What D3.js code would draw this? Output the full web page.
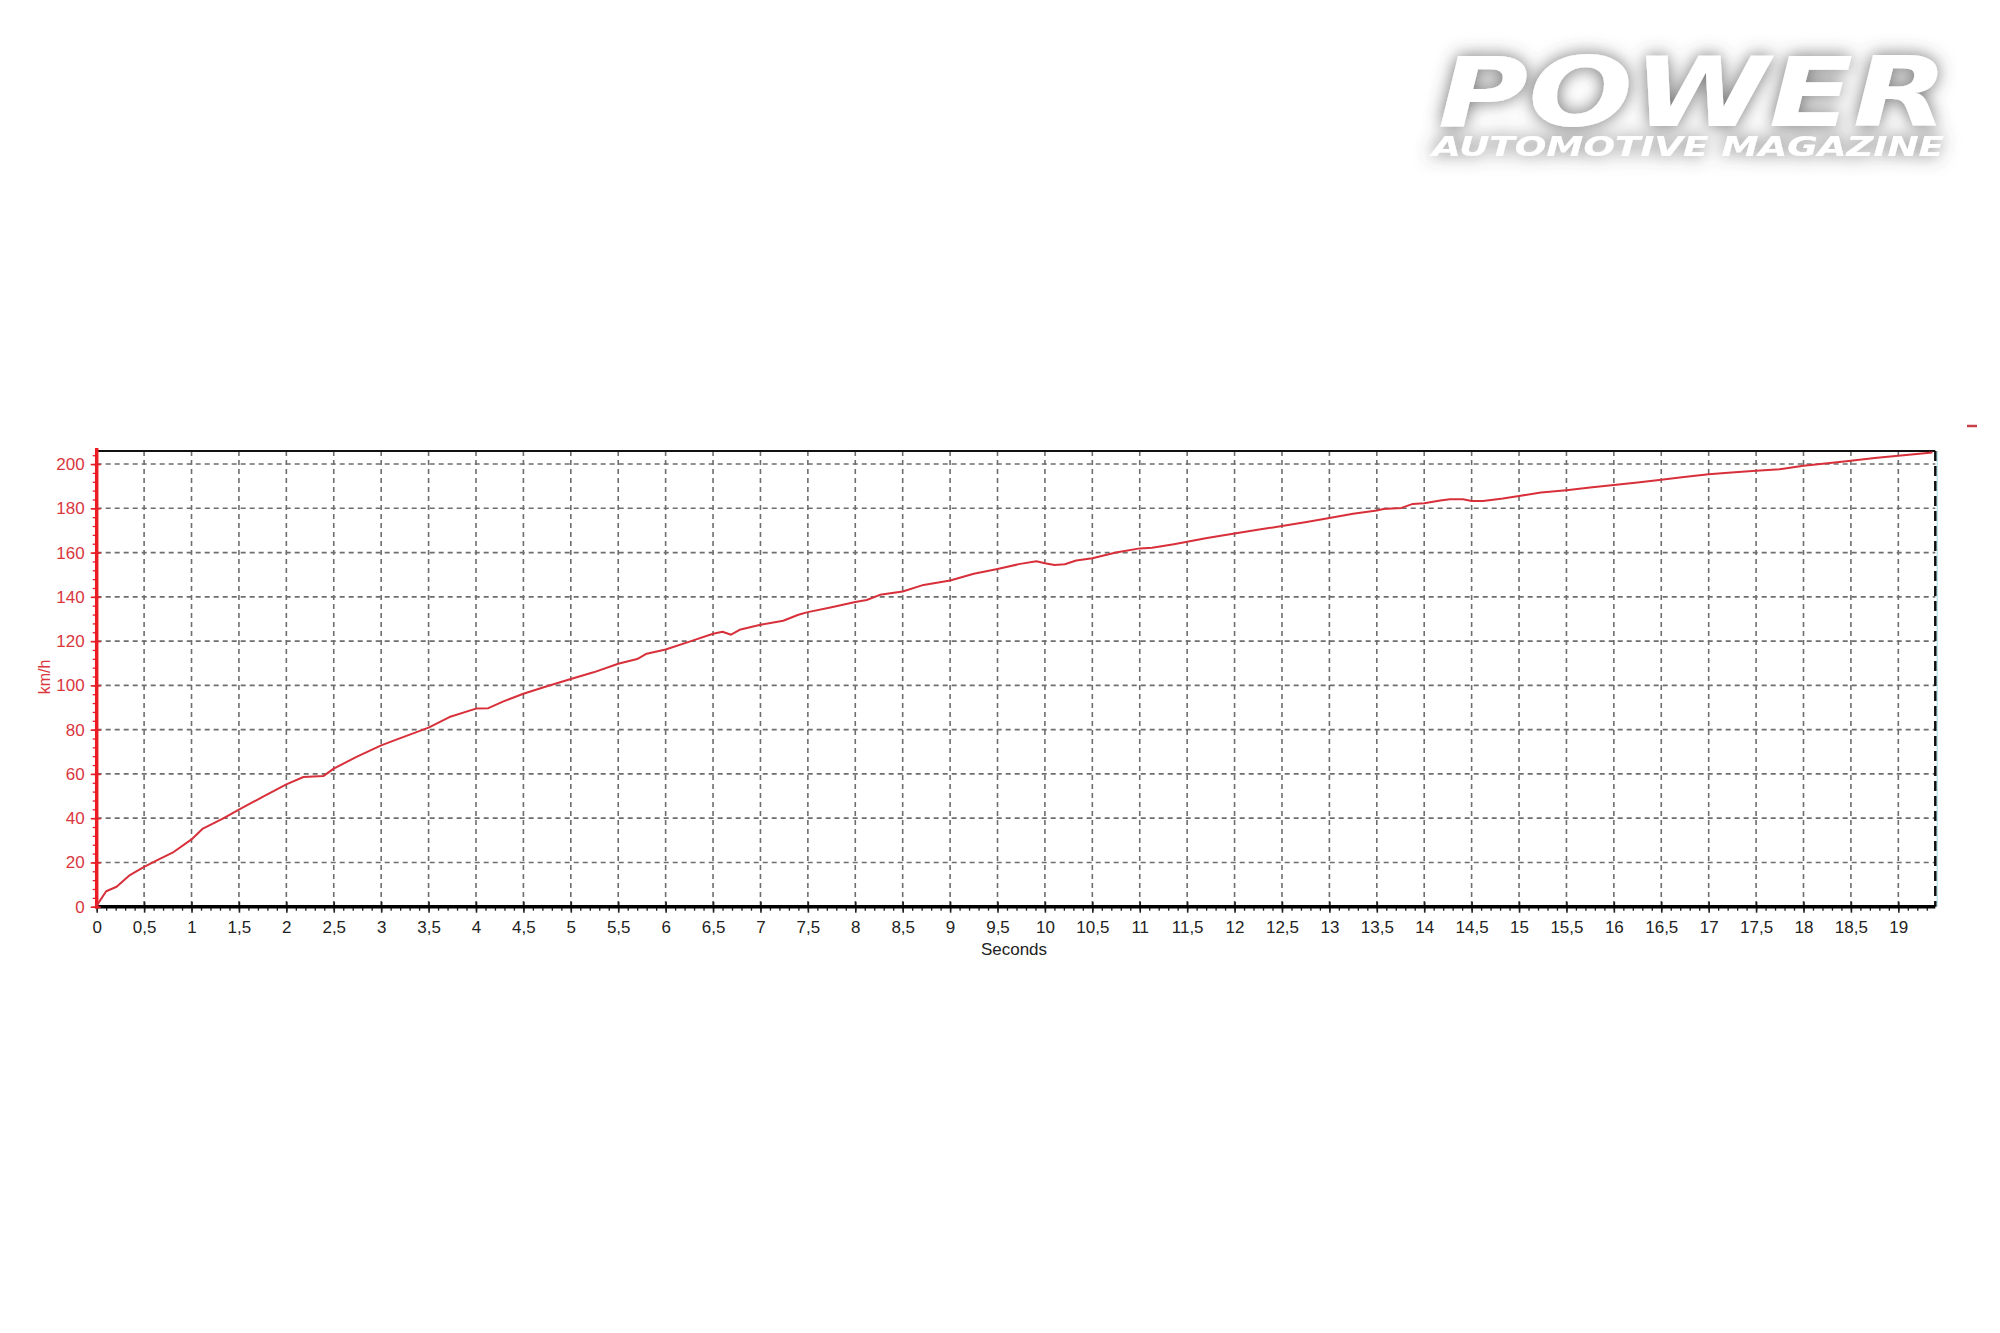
<!DOCTYPE html>
<html>
<head>
<meta charset="utf-8">
<script src="https://cdn.jsdelivr.net/npm/d3@7"></script>
<style>
  body { margin: 0; background: #fff; }
  svg { display: block; font-family: Arial, "Liberation Sans", sans-serif; }
</style>
</head>
<body>
<div id="chart"></div>
<script>
// Data ----------------------------------------------------------------------------------------------------
const seconds = [0, 0.1, 0.21, 0.35, 0.5, 0.66, 0.8, 1.0, 1.12, 1.33, 1.5, 1.75, 2.0, 2.18, 2.39, 2.5, 2.74,
  3.0, 3.16, 3.5, 3.72, 4.0, 4.13, 4.29, 4.5, 4.74, 5.0, 5.24, 5.5, 5.7, 5.8, 6.0, 6.26, 6.5, 6.6, 6.69,
  6.78, 7.0, 7.24, 7.4, 7.5, 7.75, 8.0, 8.12, 8.26, 8.5, 8.72, 9.0, 9.25, 9.5, 9.74, 9.91, 10.0, 10.1,
  10.21, 10.33, 10.5, 10.75, 11.0, 11.13, 11.36, 11.5, 11.71, 12.0, 12.26, 12.5, 12.76, 13.0, 13.25,
  13.5, 13.57, 13.76, 13.88, 14.0, 14.17, 14.27, 14.41, 14.5, 14.62, 14.83, 15.0, 15.23, 15.5, 15.75,
  16.0, 16.25, 16.5, 16.74, 17.0, 17.24, 17.5, 17.75, 18.0, 18.23, 18.5, 18.75, 19.0, 19.36];
const speed = [0.5, 7, 9, 14.3, 18, 21.5, 24.4, 30.4, 35.3, 39.8, 43.9, 49.6, 55.3, 58.6, 59, 62.4, 67.7,
  72.9, 75.5, 80.9, 85.7, 89.5, 89.7, 92.8, 96.2, 99.5, 102.9, 105.9, 109.8, 111.9, 114.3, 116.2, 119.9,
  123.3, 124.2, 122.9, 125.1, 127.4, 129.2, 131.9, 133.1, 135.3, 137.7, 138.6, 140.9, 142.4, 145.4,
  147.4, 150.4, 152.6, 154.9, 156.1, 155.2, 154.4, 154.7, 156.4, 157.4, 160, 161.9, 162.2, 163.8, 164.9,
  166.6, 168.6, 170.4, 172, 173.8, 175.6, 177.5, 179, 179.7, 180.2, 182, 182.3, 183.5, 184.1, 184.1,
  183.3, 183.3, 184.4, 185.6, 187.1, 188.2, 189.4, 190.5, 191.7, 192.9, 194.2, 195.4, 196.2, 197, 197.7,
  199.2, 200.3, 201.5, 202.7, 203.8, 205.2];
const xTicks = d3.range(0, 19.01, 0.5);
const xMinorTicks = d3.range(0, 19.39, 0.1);
const yTicks = d3.range(0, 201, 20);
const yMinorTicks = d3.range(0, 205, 4);

const points = seconds.map((t, i) => ({t: t, v: speed[i]}));

// Dimensions ----------------------------------------------------------------------------------------------
const width = 2000, height = 1333;
const plot = {left: 96.7, right: 1935.3, top: 451, bottom: 906.7};

const svg = d3.select("#chart").append("svg")
  .attr("width", width)
  .attr("height", height);

// Scales
const x = d3.scaleLinear().domain([0, 19.39]).range([plot.left, plot.right]);
const y = d3.scaleLinear().domain([0, 205.9]).range([plot.bottom, plot.top]);

const fmt = d => String(+d.toFixed(1)).replace(".", ",");

// Grid ----------------------------------------------------------------------------------------------------
const grid = svg.append("g");
grid.selectAll(".hgrid")
  .data(yTicks.filter(d => d > 0))
  .enter().append("line")
  .attr("x1", plot.left).attr("x2", plot.right)
  .attr("y1", d => y(d)).attr("y2", d => y(d))
  .attr("stroke", "#6e6e6e").attr("stroke-width", 1.6)
  .attr("stroke-dasharray", "5,4");
grid.selectAll(".vgrid")
  .data(xTicks.filter(d => d > 0))
  .enter().append("line")
  .attr("x1", d => x(d)).attr("x2", d => x(d))
  .attr("y1", plot.top).attr("y2", plot.bottom)
  .attr("stroke", "#6e6e6e").attr("stroke-width", 1.6)
  .attr("stroke-dasharray", "5,4");

// Frame: top border + dashed right border
svg.append("line")
  .attr("x1", plot.left).attr("x2", plot.right)
  .attr("y1", plot.top).attr("y2", plot.top)
  .attr("stroke", "#111").attr("stroke-width", 2);
svg.append("line")
  .attr("x1", plot.right + 2).attr("x2", plot.right + 2)
  .attr("y1", plot.top).attr("y2", plot.bottom)
  .attr("stroke", "#bfe6ef").attr("stroke-width", 1.5);
svg.append("line")
  .attr("x1", plot.right).attr("x2", plot.right)
  .attr("y1", plot.top).attr("y2", plot.bottom)
  .attr("stroke", "#111").attr("stroke-width", 2.5)
  .attr("stroke-dasharray", "10,5");

// X Axis --------------------------------------------------------------------------------------------------
svg.append("g")
  .attr("transform", `translate(0,${plot.bottom})`)
  .call(d3.axisBottom(x).tickValues(xMinorTicks).tickSize(4).tickFormat(""))
  .call(g => g.select(".domain").remove())
  .call(g => g.selectAll("line").attr("stroke", "#222").attr("stroke-width", 1.3));

const xAxis = svg.append("g")
  .attr("transform", `translate(0,${plot.bottom})`)
  .call(d3.axisBottom(x).tickValues(xTicks).tickSizeInner(6).tickSizeOuter(0).tickPadding(8).tickFormat(fmt));
xAxis.select(".domain").remove();
xAxis.selectAll(".tick line").attr("y1", -5).attr("stroke", "#222").attr("stroke-width", 1.6);
xAxis.selectAll("text").attr("fill", "#222").style("font-size", "17px");

svg.append("line")
  .attr("x1", plot.left).attr("x2", plot.right)
  .attr("y1", plot.bottom).attr("y2", plot.bottom)
  .attr("stroke", "#000").attr("stroke-width", 3.5);

svg.append("text")
  .attr("x", 1014).attr("y", 955)
  .attr("text-anchor", "middle")
  .attr("fill", "#222")
  .style("font-size", "17px")
  .text("Seconds");

// Y Axis --------------------------------------------------------------------------------------------------
svg.append("g")
  .attr("transform", `translate(${plot.left},0)`)
  .call(d3.axisLeft(y).tickValues(yMinorTicks).tickSize(4).tickFormat(""))
  .call(g => g.select(".domain").remove())
  .call(g => g.selectAll("line").attr("stroke", "#e0242c").attr("stroke-width", 1.3));

const yAxis = svg.append("g")
  .attr("transform", `translate(${plot.left},0)`)
  .call(d3.axisLeft(y).tickValues(yTicks).tickSizeInner(6).tickSizeOuter(0).tickPadding(6));
yAxis.select(".domain").remove();
yAxis.selectAll(".tick line").attr("x1", 4).attr("stroke", "#e0242c").attr("stroke-width", 1.6);
yAxis.selectAll("text").attr("fill", "#d9363e").style("font-size", "17px");

svg.append("line")
  .attr("x1", plot.left).attr("x2", plot.left)
  .attr("y1", plot.top - 3).attr("y2", plot.bottom + 2)
  .attr("stroke", "#ec1c24").attr("stroke-width", 3.5);

svg.append("text")
  .attr("transform", "translate(50,677) rotate(-90)")
  .attr("text-anchor", "middle")
  .attr("fill", "#d9363e")
  .style("font-size", "16px")
  .text("km/h");

// Speed line ----------------------------------------------------------------------------------------------
const line = d3.line()
  .x(d => x(d.t))
  .y(d => y(d.v));

svg.append("path")
  .datum(points)
  .attr("d", line)
  .attr("fill", "none")
  .attr("stroke", "#d8303a")
  .attr("stroke-width", 2)
  .attr("stroke-linejoin", "round");

// Legend marker (tiny red dash top right)
svg.append("line")
  .attr("x1", 1967).attr("x2", 1977)
  .attr("y1", 426).attr("y2", 426)
  .attr("stroke", "#c8414a").attr("stroke-width", 2.5);

// Logo ----------------------------------------------------------------------------------------------------
const defs = svg.append("defs");
const glow = defs.append("filter").attr("id", "glow")
  .attr("x", "-20%").attr("y", "-50%").attr("width", "140%").attr("height", "200%");
glow.append("feGaussianBlur").attr("in", "SourceAlpha").attr("stdDeviation", 9).attr("result", "blur");
glow.append("feFlood").attr("flood-color", "#4a4a4a").attr("flood-opacity", 0.8);
glow.append("feComposite").attr("in2", "blur").attr("operator", "in").attr("result", "shadow");
const merge = glow.append("feMerge");
merge.append("feMergeNode").attr("in", "shadow");
merge.append("feMergeNode").attr("in", "SourceGraphic");

const logo = svg.append("g").attr("filter", "url(#glow)");
logo.append("text")
  .attr("x", 1438).attr("y", 126)
  .attr("textLength", 510).attr("lengthAdjust", "spacingAndGlyphs")
  .attr("fill", "#fff")
  .style("font-family", "'DejaVu Sans', sans-serif")
  .style("font-weight", "bold").style("font-style", "italic")
  .style("font-size", "96px")
  .text("POWER");
logo.append("text")
  .attr("x", 1432).attr("y", 156)
  .attr("textLength", 512).attr("lengthAdjust", "spacingAndGlyphs")
  .attr("fill", "#fff")
  .style("font-family", "'DejaVu Sans', sans-serif")
  .style("font-weight", "bold").style("font-style", "italic")
  .style("font-size", "26px")
  .text("AUTOMOTIVE MAGAZINE");
</script>
</body>
</html>
